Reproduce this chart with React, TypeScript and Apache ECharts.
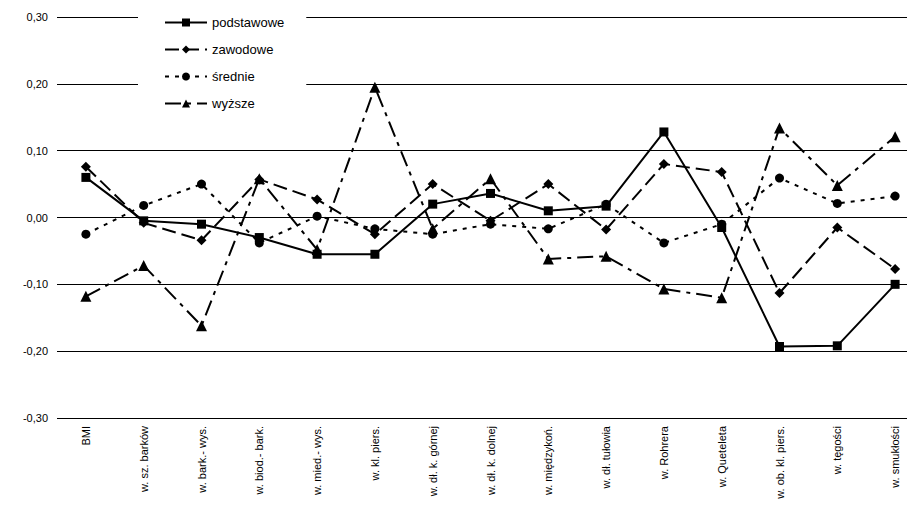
import React, { useEffect, useRef } from "react";
import * as echarts from "echarts";

const categories = ["BMI","w. sz. barków","w. bark.- wys.","w. biod.- bark.","w. mied.- wys.","w. kl. piers.","w. dł. k. górnej","w. dł. k. dolnej","w. międzykoń.","w. dł. tułowia","w. Rohrera","w. Queteleta","w. ob. kl. piers.","w. tęgości","w. smukłości"];
const podstawowe = [0.06,-0.005,-0.01,-0.03,-0.055,-0.055,0.02,0.036,0.01,0.017,0.128,-0.015,-0.193,-0.192,-0.10];
const zawodowe = [0.076,-0.008,-0.034,0.057,0.027,-0.025,0.05,-0.005,0.05,-0.018,0.08,0.068,-0.113,-0.015,-0.077];
const srednie = [-0.025,0.018,0.05,-0.038,0.002,-0.017,-0.025,-0.01,-0.017,0.02,-0.038,-0.01,0.059,0.021,0.032];
const wyzsze = [-0.118,-0.072,-0.162,0.058,-0.048,0.195,-0.017,0.058,-0.062,-0.058,-0.107,-0.12,0.134,0.048,0.121];

export default function App() {
  const ref = useRef<HTMLDivElement>(null);
  useEffect(() => {
    const chart = echarts.init(ref.current!, undefined, { renderer: "svg" });
    const mk = (name: string, data: number[], symbol: string, size: number, dash: any) => ({
      name, type: "line", data, symbol, symbolSize: size,
      itemStyle: { color: "#000" },
      lineStyle: { color: "#000", width: 2, type: dash },
    });
    chart.setOption({
      animation: false,
      textStyle: { fontFamily: "Liberation Sans, Arial, sans-serif" },
      grid: { left: 49, width: 867, top: 9, bottom: 93 },
      legend: {
        orient: "vertical", left: 130, top: 2, itemWidth: 42, itemHeight: 10, itemGap: 14,
        backgroundColor: "#fff", padding: [6, 22, 8, 26],
        textStyle: { fontSize: 13, color: "#000" },
        data: ["podstawowe","zawodowe","średnie","wyższe"],
      },
      xAxis: {
        type: "category", data: categories, boundaryGap: true,
        axisLine: { show: false }, axisTick: { show: false },
        axisLabel: { rotate: 90, fontSize: 11, color: "#000", interval: 0, margin: 8 },
      },
      yAxis: {
        type: "value", min: -0.3, max: 0.3, interval: 0.1,
        axisLine: { show: false }, axisTick: { show: false },
        axisLabel: { fontSize: 11, color: "#000", margin: 9, formatter: (v: number) => v.toFixed(2).replace(".", ",") },
        splitLine: { lineStyle: { color: "#000", width: 1 } },
      },
      series: [
        mk("podstawowe", podstawowe, "rect", 9, "solid"),
        mk("zawodowe", zawodowe, "diamond", 10, [14, 6]),
        mk("średnie", srednie, "circle", 9, [4, 6]),
        mk("wyższe", wyzsze, "triangle", 11, [16, 6, 4, 6]),
      ],
    });
    return () => chart.dispose();
  }, []);
  return (
    <div style={{ width: 899, height: 503, overflow: "hidden" }}>
      <div ref={ref} style={{ width: 920, height: 503 }} />
    </div>
  );
}
